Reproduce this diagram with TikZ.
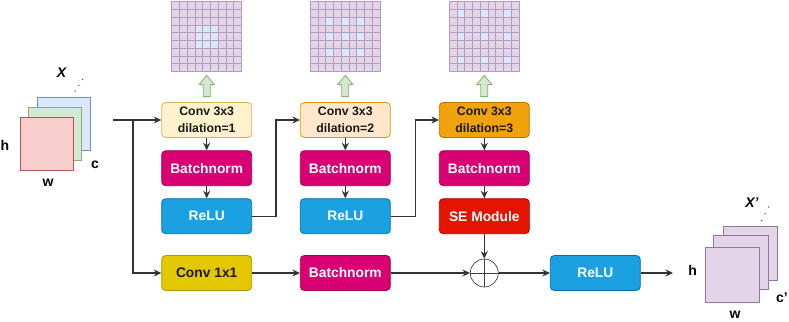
\documentclass[tikz,border=0pt]{standalone}
\usepackage{fontspec}
\setmainfont{Liberation Sans}
\usetikzlibrary{arrows.meta,calc}

\begin{document}
\begin{tikzpicture}[
  x=1pt, y=-1pt,
  >={Stealth[length=7.5pt,width=7pt]},
  font=\bfseries\fontsize{13.8}{16}\selectfont,
  link/.style={->, line width=1.3pt, draw=black!80},
  block/.style={draw, rounded corners=4pt, line width=.8pt, minimum width=90pt,
    minimum height=35pt, inner sep=0pt, align=center},
  convbox/.style={block, text=black!90, font=\bfseries\fontsize{12.3}{16.5}\selectfont},
  sheet/.style={draw, line width=.8pt, minimum width=53pt, minimum height=53pt, inner sep=0pt},
  dimlabel/.style={font=\bfseries\fontsize{14}{16}\selectfont},
  gridline/.style={draw=lilacline!70, line width=.55pt},
  uparrow/.style={fill=sheetgreen, draw=sheetgreenline, line width=.8pt, line join=miter}
]

\definecolor{cream}{HTML}{FFF2CC}      \definecolor{creamline}{HTML}{D6B656}
\definecolor{peach}{HTML}{FFE6CC}      \definecolor{peachline}{HTML}{D79B00}
\definecolor{amber}{HTML}{F0A30A}      \definecolor{amberline}{HTML}{BD7000}
\definecolor{normpink}{HTML}{D80073}   \definecolor{normpinkline}{HTML}{A50040}
\definecolor{relublue}{HTML}{1BA1E2}   \definecolor{relublueline}{HTML}{006EAF}
\definecolor{sered}{HTML}{E51400}      \definecolor{seredline}{HTML}{B20000}
\definecolor{mustard}{HTML}{E3C800}    \definecolor{mustardline}{HTML}{B09500}
\definecolor{sheetred}{HTML}{F8CECC}   \definecolor{sheetredline}{HTML}{B85450}
\definecolor{sheetgreen}{HTML}{D5E8D4} \definecolor{sheetgreenline}{HTML}{82B366}
\definecolor{sheetblue}{HTML}{DAE8FC}  \definecolor{sheetblueline}{HTML}{6C8EBF}
\definecolor{lilac}{HTML}{E1D5E7}      \definecolor{lilacline}{HTML}{9673A6}

\useasboundingbox (0,0) rectangle (789,321);

% Input feature map X
\node[sheet, fill=sheetblue, draw=sheetblueline] (inC) at (63.8,124.2) {};
\node[sheet, fill=sheetgreen, draw=sheetgreenline] (inB) at (55.3,133.5) {};
\node[sheet, fill=sheetred, draw=sheetredline] (inA) at (46.8,144.2) {};
\node[dimlabel] (inX) at (62,73) {\textit{X}};
\node[dimlabel] (inH) at (5,145) {h};
\node[dimlabel] (inW) at (48,183) {w};
\node[dimlabel] (inCh) at (95,165) {c};
\coordinate (inDotA) at (75,91);
\coordinate (inDotB) at (82.5,79.5);
\foreach \t in {0,.5,1}
  \fill[black!70] ($(inDotA)!\t!(inDotB)$) circle (.75);

% Dilated branches
\node[convbox, fill=cream, draw=creamline] (conv1) at (206.7,120) {Conv 3x3\\dilation=1};
\node[block, fill=normpink, draw=normpinkline, text=white] (bn1) at (206.7,168.2) {Batchnorm};
\node[block, fill=relublue, draw=relublueline, text=white] (relu1) at (206.7,216.2) {ReLU};

\node[convbox, fill=peach, draw=peachline] (conv2) at (345.3,120) {Conv 3x3\\dilation=2};
\node[block, fill=normpink, draw=normpinkline, text=white] (bn2) at (345.3,168.2) {Batchnorm};
\node[block, fill=relublue, draw=relublueline, text=white] (relu2) at (345.3,216.2) {ReLU};

\node[convbox, fill=amber, draw=amberline] (conv3) at (484.3,120) {Conv 3x3\\dilation=3};
\node[block, fill=normpink, draw=normpinkline, text=white] (bn3) at (484.3,168.2) {Batchnorm};
\node[block, fill=sered, draw=seredline, text=white] (se) at (484.3,216.2) {SE Module};

% Shortcut branch and merge
\node[block, fill=mustard, draw=mustardline, text=black!90] (convp) at (206.7,273) {Conv 1x1};
\node[block, fill=normpink, draw=normpinkline, text=white] (bnp) at (345.3,273) {Batchnorm};
\node[circle, draw=black!75, line width=.7pt, minimum size=28pt, inner sep=0pt] (sum) at (484.3,273) {};
\draw[black!75, line width=.6pt] (sum.north) -- (sum.south) (sum.west) -- (sum.east);
\node[block, fill=relublue, draw=relublueline, text=white] (relu) at (595.3,273) {ReLU};

% Receptive fields above each convolution
\foreach \g/\cx/\dil in {1/206.7/1, 2/345.3/2, 3/484.3/3}{
  \node[minimum size=70pt, inner sep=0pt, fill=lilac] (grid\g) at (\cx,36.7) {};
  \foreach \i in {-1,0,1}{
    \foreach \j in {-1,0,1}{
      \fill[sheetblue] ($(grid\g.north west)+({(4+\i*\dil)*70/9},{(4+\j*\dil)*70/9})$)
        rectangle ++(70/9,70/9);
    }
  }
  \foreach \k in {0,...,9}{
    \draw[gridline] ($(grid\g.north west)+(\k*70/9,0)$) -- ++(0,70);
    \draw[gridline] ($(grid\g.north west)+(0,\k*70/9)$) -- ++(70,0);
  }
  \draw[uparrow] ($(conv\g.north)+(-3.5,-5.5)$) -- ($(grid\g.south)+(-3.5,12.5)$)
    -- ++(-4,0) -- ($(grid\g.south)+(0,3.5)$) -- ($(grid\g.south)+(7.5,12.5)$)
    -- ++(-4,0) -- ($(conv\g.north)+(3.5,-5.5)$) -- cycle;
}

% Output feature map X'
\node[sheet, fill=lilac, draw=lilacline, minimum size=54.5pt] (outC) at (750.2,253.5) {};
\node[sheet, fill=lilac, draw=lilacline, minimum size=54.5pt] (outB) at (741,262.5) {};
\node[sheet, fill=lilac, draw=lilacline, minimum size=54.5pt] (outA) at (732.2,275) {};
\node[dimlabel] (outX) at (752,203) {\textit{X'}};
\node[dimlabel] (outH) at (692.7,270) {h};
\node[dimlabel] (outW) at (735,315) {w};
\node[dimlabel] (outCh) at (782,298) {c'};
\coordinate (outDotA) at (761.5,220.5);
\coordinate (outDotB) at (768.5,207);
\foreach \t in {0,.5,1}
  \fill[black!70] ($(outDotA)!\t!(outDotB)$) circle (.75);

% Connectors
\coordinate (inpt) at (113,120);
\coordinate (fork) at (133,120);
\coordinate (outpt) at (673,273);
\draw[link] (inpt) -- (conv1.west);
\draw[link] (fork) |- (convp.west);
\draw[link] (conv1) -- (bn1);
\draw[link] (bn1) -- (relu1);
\draw[link] (relu1.east) -- ++(24,0) |- (conv2.west);
\draw[link] (conv2) -- (bn2);
\draw[link] (bn2) -- (relu2);
\draw[link] (relu2.east) -- ++(25,0) |- (conv3.west);
\draw[link] (conv3) -- (bn3);
\draw[link] (bn3) -- (se);
\draw[link] (se) -- (sum);
\draw[link] (convp) -- (bnp);
\draw[link] (bnp) -- (sum);
\draw[link] (sum) -- (relu);
\draw[link] (relu.east) -- (outpt);

\end{tikzpicture}
\end{document}
